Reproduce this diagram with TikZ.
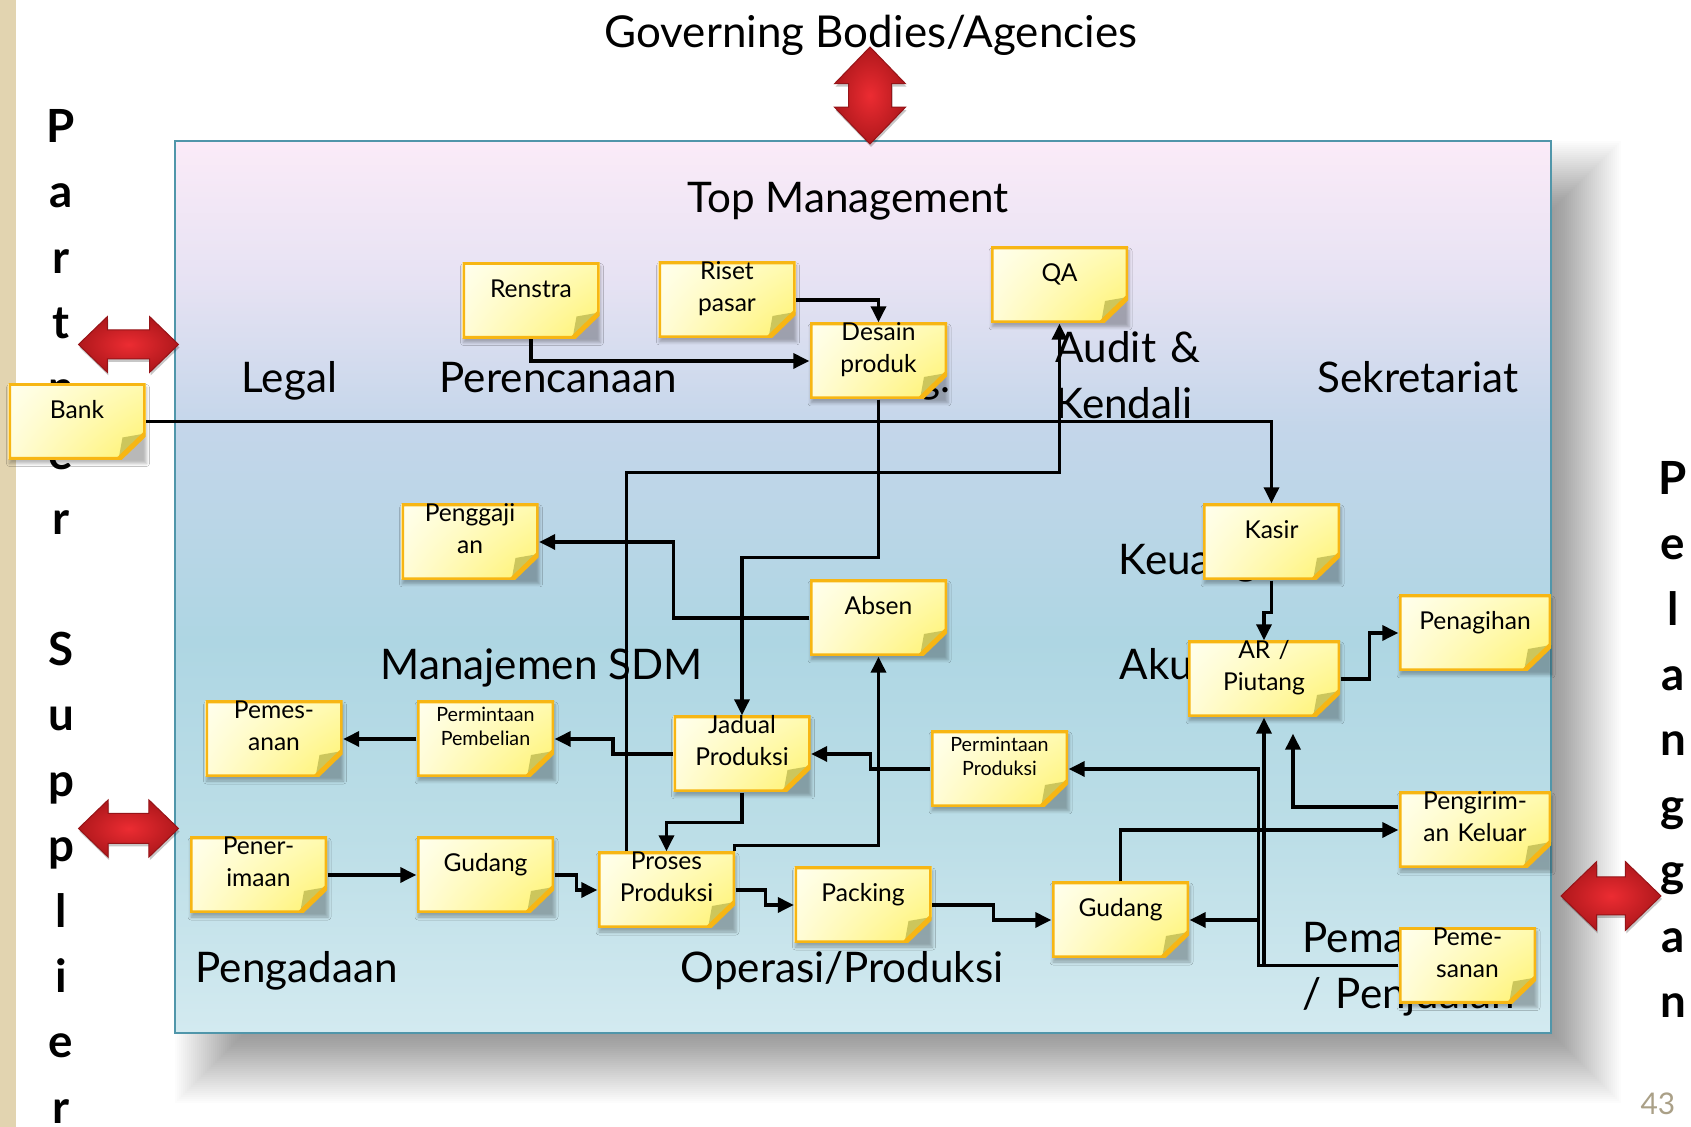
\documentclass[tikz,border=0pt]{standalone}
\usepackage{fontspec}
\setmainfont{Lato}
\usepackage{tikz}
\usepackage{xcolor}
\usetikzlibrary{arrows.meta, calc, positioning, shapes.arrows, shadows, shadows.blur, shadings}

\definecolor{boardA}{RGB}{251,235,248}
\definecolor{boardB}{RGB}{230,226,243}
\definecolor{boardC}{RGB}{196,214,234}
\definecolor{boardD}{RGB}{174,214,227}
\definecolor{boardE}{RGB}{188,222,231}
\definecolor{boardF}{RGB}{211,234,240}
\definecolor{boardline}{RGB}{80,150,170}
\definecolor{notepale}{RGB}{255,255,238}
\definecolor{notelight}{RGB}{255,250,175}
\definecolor{notecream}{RGB}{255,252,215}
\definecolor{noteyellow}{RGB}{255,242,105}
\definecolor{notering}{RGB}{247,182,20}
\definecolor{notefold}{RGB}{204,198,92}
\definecolor{redlight}{RGB}{236,44,50}
\definecolor{reddark}{RGB}{176,24,28}
\definecolor{stripbeige}{RGB}{226,212,176}
\definecolor{pagegrey}{RGB}{170,160,135}

\pgfdeclareverticalshading{boardshade}{100bp}{color(0bp)=(boardF); color(25bp)=(boardF);
  color(36bp)=(boardE); color(47bp)=(boardD); color(59bp)=(boardC); color(67bp)=(boardB);
  color(75bp)=(boardA); color(100bp)=(boardA)}

\newcommand\stickyfont{\fontsize{7}{9.1}\selectfont}
\newcommand\smallstickyfont{\fontsize{5.6}{6.8}\selectfont}
\newcommand\areafont{\fontsize{12}{15.9}\selectfont}
\newcommand\sidefont{\fontsize{13}{18.6}\bfseries\selectfont}

\tikzset{
  area/.style={font=\areafont, inner sep=0pt, anchor=base west},
  side/.style={font=\sidefont, inner sep=0pt, text width=.6cm, align=center, anchor=base},
  note/.style={rectangle, inner sep=0pt, text width=1.37cm, align=center, font=\stickyfont,
    text height=.35cm, text depth=.41cm,
    blur shadow={shadow xshift=.01cm, shadow yshift=-.04cm, shadow blur radius=.03cm, shadow opacity=28},
    path picture={
      \coordinate (nw) at (path picture bounding box.north west);
      \coordinate (ne) at (path picture bounding box.north east);
      \coordinate (se) at (path picture bounding box.south east);
      \coordinate (sw) at (path picture bounding box.south west);
      \shade[upper left=notepale, upper right=notelight, lower left=notecream, lower right=noteyellow]
        (nw) -- (ne) -- ([yshift=.26cm]se) -- ([xshift=-.27cm]se) -- (sw) -- cycle;
      \fill[notefold] ([yshift=.26cm]se) -- ([xshift=-.27cm]se) -- ([xshift=-.23cm, yshift=.22cm]se) -- cycle;
      \draw[notering, line width=.05cm] (nw) -- (ne) -- ([yshift=.26cm]se) -- ([xshift=-.27cm]se) -- (sw) -- cycle;
    }},
  two/.style={text height=.18cm, text depth=.58cm},
  wide/.style={text width=1.52cm},
  small/.style={font=\smallstickyfont, text height=.21cm, text depth=.55cm},
  redarrow/.style={double arrow, inner xsep=0pt, inner ysep=.14cm, minimum height=1cm,
    double arrow head extend=.135cm, double arrow tip angle=88,
    inner color=redlight, outer color=reddark, draw=reddark!85!black, line width=.01cm,
    drop shadow={shadow xshift=.01cm, shadow yshift=-.03cm, fill=black, opacity=.22}},
  link/.style={line width=.034cm, -{Triangle[length=.16cm, width=.15cm]}},
}

\begin{document}
\begin{tikzpicture}
  \useasboundingbox (0, 0) rectangle (16.91, -11.27);
  \fill[white] (0, 0) rectangle (16.91, -11.27);
  \fill[stripbeige] (0, 0) rectangle (.16, -11.27);
  \foreach \r in {-.35,-.33,...,.36}
    \fill[black, opacity=.012] (2.10-\r, -1.76+\r) rectangle (15.86+\r, -10.68-\r);
  \shade[shading=boardshade, draw=boardline, line width=.02cm] (1.75, -1.41) rectangle (15.51, -10.33);

  \node[area, anchor=base, font=\fontsize{12.5}{16}\selectfont] (governing) at (8.71, -0.48) {Governing Bodies/Agencies};
  \node[area, anchor=base] (top) at (8.48, -2.13) {Top Management};
  \node[area] (legal) at (2.41, -3.93) {Legal};
  \node[area] (perencanaan) at (4.39, -3.93) {Perencanaan};
  \node[area, anchor=base east] (mktg) at (9.51, -3.93) {Mktg.};
  \node[area, text width=2cm, align=left] (audit) at (10.55, -3.63) {Audit \&\\Kendali};
  \node[area] (sekretariat) at (13.17, -3.93) {Sekretariat};
  \node[area] (keuangan) at (11.18, -5.75) {Keuangan};
  \node[area] (akuntansi) at (11.19, -6.80) {Akuntansi};
  \node[area] (sdm) at (3.80, -6.80) {Manajemen SDM};
  \node[area] (pengadaan) at (1.95, -9.83) {Pengadaan};
  \node[area] (operasi) at (6.80, -9.83) {Operasi/Produksi};
  \node[area, text width=2.5cm, align=left] (pemasaran) at (13.02, -9.53) {Pemasaran\\/ Penjualan};

  \node[side] (partner) at (0.61, -1.425) {P\\a\\r\\t\\n\\e\\r\\[.655cm]S\\u\\p\\p\\l\\i\\e\\r};
  \node[side] (pelanggan) at (16.73, -4.945) {P\\e\\l\\a\\n\\g\\g\\a\\n};
  \node[inner sep=0pt, anchor=base east, text=pagegrey, font=\fontsize{8.5}{10}\selectfont] (page) at (16.76, -11.15) {43};

  \node[redarrow, rotate=90, minimum height=.97cm, inner ysep=.21cm, double arrow head extend=.14cm] (govarrow) at (8.70, -0.955) {};
  \node[redarrow] (partnerarrow) at (1.285, -3.445) {};
  \node[redarrow, inner ysep=.145cm] (supplierarrow) at (1.285, -8.285) {};
  \node[redarrow, inner ysep=.185cm, double arrow head extend=.155cm] (customerarrow) at (16.11, -8.96) {};

  \node[note] (bank) at (0.77, -4.215) {Bank};
  \node[note] (renstra) at (5.31, -3.005) {Renstra};
  \node[note, two] (riset) at (7.27, -3.00) {Riset\\pasar};
  \node[note, two] (desain) at (8.785, -3.61) {Desain\\produk};
  \node[note] (qa) at (10.595, -2.85) {QA};
  \node[note] (kasir) at (12.715, -5.42) {Kasir};
  \node[note, two, wide] (piutang) at (12.64, -6.79) {AR /\\Piutang};
  \node[note, wide] (penagihan) at (14.75, -6.33) {Penagihan};
  \node[note, two, wide] (pengiriman) at (14.75, -8.30) {Pengirim-\\an Keluar};
  \node[note, two] (pemesanan) at (14.675, -9.655) {Peme-\\sanan};
  \node[note, two] (penggajian) at (4.70, -5.42) {Penggaji\\an};
  \node[note] (absen) at (8.785, -6.18) {Absen};
  \node[note, two] (pesanbeli) at (2.74, -7.39) {Pemes-\\anan};
  \node[note, small] (mintabeli) at (4.855, -7.39) {Permintaan\\Pembelian};
  \node[note, two] (jadual) at (7.42, -7.54) {Jadual\\Produksi};
  \node[note, small] (mintaprod) at (9.995, -7.69) {Permintaan\\Produksi};
  \node[note, two] (penerimaan) at (2.585, -8.75) {Pener-\\imaan};
  \node[note] (gudangbeli) at (4.855, -8.75) {Gudang};
  \node[note, two] (proses) at (6.665, -8.90) {Proses\\Produksi};
  \node[note] (packing) at (8.63, -9.05) {Packing};
  \node[note] (gudangjual) at (11.205, -9.20) {Gudang};

  \draw[link] (bank.east) -| (kasir.north);
  \draw[link] (renstra.south) |- (desain.west);
  \draw[link] (riset.east) -| (desain.north);
  \draw[link] (desain.south) -- ++(0, -1.58) -| (jadual.north);
  \draw[link] ([xshift=.29cm]proses.north west) |- ([yshift=-1.49cm]qa.south) -- (qa.south);
  \draw[link] (absen.west) -- ++(-1.36, 0) |- (penggajian.east);
  \draw[link] ([xshift=-.01cm]proses.north east) -- ++(0, .06) -| (absen.south);
  \draw[link] (jadual.west) -- ++(-.60, 0) |- (mintabeli.east);
  \draw[link] (mintabeli.west) -- (pesanbeli.east);
  \draw[link] (jadual.south) -- ++(0, -.30) -| (proses.north);
  \draw[link] (mintaprod.west) -- ++(-.60, 0) |- (jadual.east);
  \draw[link] (pemesanan.west) -| (piutang.south);
  \draw[link] (pemesanan.west) -- ++(-1.40, 0) |- (mintaprod.east);
  \draw[link] (pemesanan.west) -- ++(-1.40, 0) |- (gudangjual.east);
  \draw[link] ([yshift=.23cm]pengiriman.west) -| ([xshift=.29cm, yshift=-.16cm]piutang.south);
  \draw[link] (gudangjual.north) |- (pengiriman.west);
  \draw[link] (piutang.east) -- ++(.29, 0) |- (penagihan.west);
  \draw[link] (kasir.south) -- ++(0, -.32) -| (piutang.north);
  \draw[link] (penerimaan.east) -- (gudangbeli.west);
  \draw[link] (gudangbeli.east) -- ++(.22, 0) |- (proses.west);
  \draw[link] (proses.east) -- ++(.30, 0) |- (packing.west);
  \draw[link] (packing.east) -- ++(.61, 0) |- (gudangjual.west);
\end{tikzpicture}
\end{document}
